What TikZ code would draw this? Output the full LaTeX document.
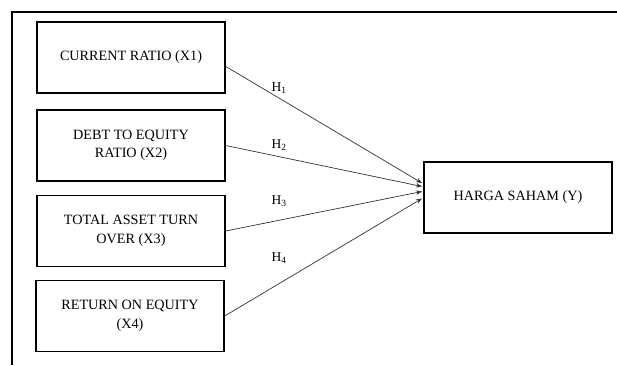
\documentclass[tikz,border=0pt]{standalone}
\usepackage{fontspec}
\setmainfont{Liberation Serif}
\usetikzlibrary{arrows.meta}
\begin{document}
\begin{tikzpicture}[x=1pt,y=-1pt,
  varbox/.style={draw,line width=1.4pt,minimum width=188pt,minimum height=71pt,align=center,inner sep=0pt,
    font=\fontsize{14.2}{18.5}\selectfont},
  conn/.style={draw=black!80,line width=0.7pt,-{Stealth[length=6pt,width=4.5pt]}},
  hlab/.style={font=\fontsize{13.5}{16}\selectfont,inner sep=0pt}]
\useasboundingbox (0,0) rectangle (617,365);
\draw[line width=1.4pt] (12,365) -- (12,12) -- (617,12);
\node[varbox] (b1) at (131,57.5) {CURRENT RATIO (X1)};
\node[varbox] (b2) at (131,145.5) {DEBT TO EQUITY\\RATIO (X2)};
\node[varbox] (b3) at (131,231) {TOTAL ASSET TURN\\OVER (X3)};
\node[varbox] (b4) at (130,316) {RETURN ON EQUITY\\(X4)};
\node[varbox] (y) at (518,197.5) {HARGA SAHAM (Y)};
\coordinate (s1) at (225,66);
\coordinate (e1) at (422,183);
\coordinate (e2) at (422,186.5);
\coordinate (e3) at (422,191.5);
\coordinate (e4) at (422,198.5);
\draw[conn] (s1) -- (e1);
\draw[conn] (b2.east) -- (e2);
\draw[conn] (b3.east) -- (e3);
\draw[conn] (b4.east) -- (e4);
\node[hlab] (h1) at (279,88) {H\textsubscript{1}};
\node[hlab] (h2) at (279,145) {H\textsubscript{2}};
\node[hlab] (h3) at (279,201) {H\textsubscript{3}};
\node[hlab] (h4) at (279,258) {H\textsubscript{4}};
\end{tikzpicture}
\end{document}
